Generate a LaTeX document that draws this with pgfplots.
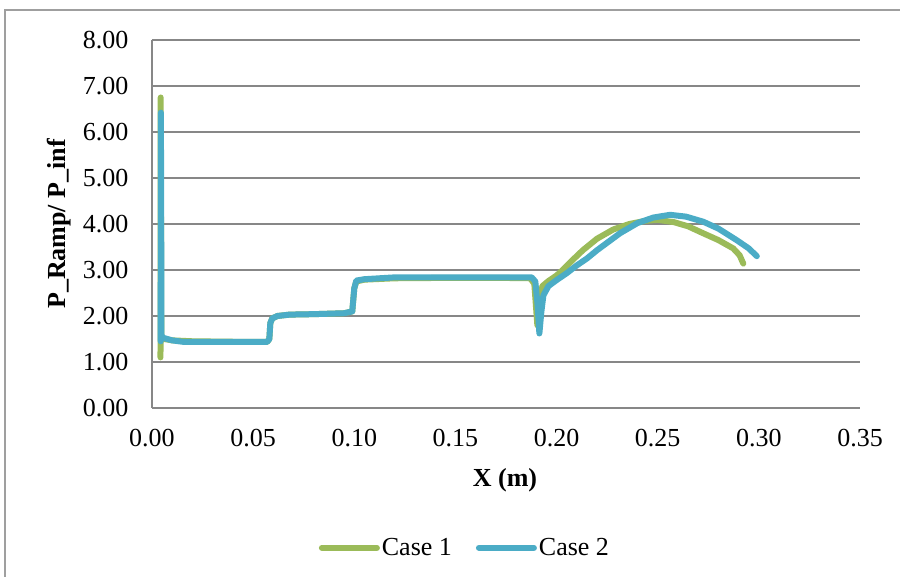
\documentclass[border=0pt]{standalone}
\usepackage{fontspec}
\setmainfont{Liberation Serif}
\usepackage{pgfplots}
\pgfplotsset{compat=1.18}
\definecolor{cgreen}{HTML}{9BBB59}
\definecolor{cblue}{HTML}{4BACC6}
\definecolor{cgrid}{HTML}{878787}
\begin{document}
\begin{tikzpicture}
\path[use as bounding box] (0,0) rectangle (900pt,577pt);
\draw[cgrid!80, line width=1.5pt] (5pt,-5pt) -- (5pt,567pt) -- (905pt,567pt);
\begin{axis}[
  at={(152pt,169pt)}, anchor=south west,
  width=708pt, height=368pt, scale only axis,
  xmin=0, xmax=0.35, ymin=0, ymax=8,
  xtick={0,0.05,0.10,0.15,0.20,0.25,0.30,0.35},
  ytick={0,1,2,3,4,5,6,7,8},
  scaled ticks=false,
  axis x line*=bottom, axis y line*=left,
  axis line style={cgrid, line width=1.5pt, -},
  ymajorgrids, grid style={cgrid, line width=1.5pt},
  tick style={draw=none},
  tick label style={font=\fontsize{26}{31}\selectfont},
  /pgf/number format/.cd, fixed, fixed zerofill, precision=2, assume math mode=true, /tikz/.cd,
  xticklabel style={yshift=-18pt},
  yticklabel style={xshift=-20pt},
  xlabel={X (m)},
  ylabel={P\_Ramp/ P\_inf},
  every axis x label/.style={at={(axis description cs:0.4986,-0.196)}, anchor=center,
    font=\fontsize{26}{31}\selectfont\bfseries},
  every axis y label/.style={at={(axis description cs:-0.1314,0.5)}, rotate=90, anchor=center,
    font=\fontsize{26}{31}\selectfont\bfseries},
  legend style={at={(axis description cs:0.442,-0.38)}, anchor=center, draw=none,
    font=\fontsize{26}{31}\selectfont, nodes={inner sep=2pt},
    /tikz/every even column/.append style={column sep=22pt}},
  legend columns=2,
  legend image code/.code={\draw[#1] (0pt,0pt) -- (55pt,0pt);},
  every axis plot/.append style={line width=6pt, line join=round, line cap=round, mark=none},
]
\addplot[cgreen] coordinates {
(0.0042,1.10) (0.0043,6.75) (0.0046,1.55) (0.0060,1.50) (0.0100,1.47) (0.0200,1.45)
(0.0400,1.44) (0.0570,1.44) (0.0580,1.50) (0.0585,1.85) (0.0595,1.95) (0.0620,2.00)
(0.0680,2.03) (0.0800,2.04) (0.0950,2.06) (0.0990,2.10) (0.1000,2.60) (0.1010,2.75)
(0.1050,2.79) (0.1200,2.82) (0.1500,2.83) (0.1700,2.83) (0.1870,2.82) (0.1890,2.70)
(0.1900,2.10) (0.1905,1.80) (0.1915,2.30) (0.1930,2.65) (0.1960,2.76) (0.2000,2.88)
(0.2030,3.00) (0.2080,3.22) (0.2130,3.43) (0.2200,3.68) (0.2280,3.88) (0.2360,4.00)
(0.2440,4.07) (0.2500,4.09) (0.2580,4.04) (0.2650,3.95) (0.2724,3.80) (0.2800,3.65)
(0.2873,3.47) (0.2905,3.32) (0.2923,3.14)
};
\addlegendentry{Case 1}
\addplot[cblue] coordinates {
(0.0043,1.45) (0.0044,6.42) (0.0047,1.55) (0.0060,1.52) (0.0100,1.47) (0.0150,1.44)
(0.0300,1.44) (0.0570,1.44) (0.0580,1.50) (0.0585,1.85) (0.0595,1.95) (0.0620,2.00)
(0.0680,2.03) (0.0800,2.04) (0.0950,2.06) (0.0990,2.10) (0.1000,2.60) (0.1010,2.77)
(0.1050,2.80) (0.1200,2.84) (0.1500,2.84) (0.1700,2.84) (0.1877,2.84) (0.1895,2.75)
(0.1905,2.30) (0.1915,1.62) (0.1925,2.10) (0.1935,2.45) (0.1960,2.65) (0.2000,2.78)
(0.2050,2.93) (0.2100,3.10) (0.2150,3.25) (0.2200,3.43) (0.2314,3.80) (0.2400,4.02)
(0.2478,4.14) (0.2561,4.20) (0.2640,4.16) (0.2725,4.05) (0.2800,3.90) (0.2890,3.65)
(0.2950,3.47) (0.2990,3.30)
};
\addlegendentry{Case 2}
\end{axis}
\end{tikzpicture}
\end{document}
